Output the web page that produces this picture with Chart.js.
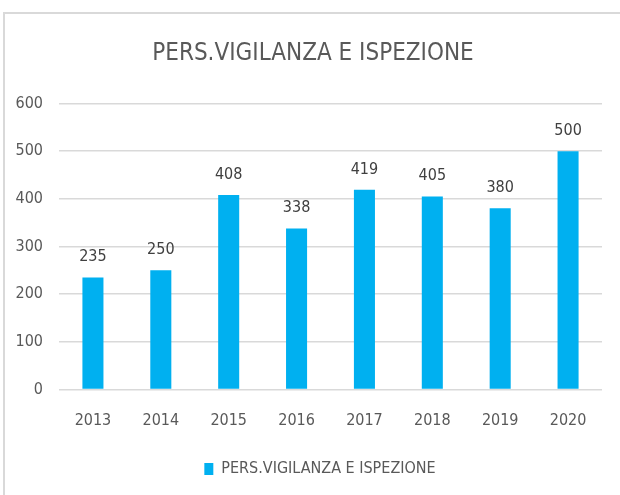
<!DOCTYPE html>
<html>
<head>
<meta charset="utf-8">
<script src="https://cdn.jsdelivr.net/npm/chart.js@4/dist/chart.umd.min.js"></script>
<style>
  html, body { margin: 0; padding: 0; background: #fff; overflow: hidden; }
  canvas { display: block; }
</style>
</head>
<body>
<canvas id="barChart" width="620" height="495"></canvas>
<script>
const years = ['2013', '2014', '2015', '2016', '2017', '2018', '2019', '2020'];
const staffValues = [235, 250, 408, 338, 419, 405, 380, 500];
const yTicks = [0, 100, 200, 300, 400, 500, 600];
const seriesName = 'PERS.VIGILANZA E ISPEZIONE';

const FONT = "'Liberation Sans Narrow', 'DejaVu Sans Condensed', sans-serif";

// light grey frame (top + left edges only, the rest is cropped in the original)
const frame = {
  id: 'frame',
  beforeDraw(chart) {
    const c = chart.ctx;
    c.save();
    c.fillStyle = '#d9d9d9';
    c.fillRect(3, 12, chart.width - 3, 2);
    c.fillRect(3, 12, 2, chart.height - 12);
    c.restore();
  }
};

// values above the bars
const barLabels = {
  id: 'barLabels',
  afterDatasetsDraw(chart) {
    const c = chart.ctx;
    const meta = chart.getDatasetMeta(0);
    c.save();
    c.font = '16px ' + FONT;
    c.fillStyle = '#404040';
    c.textAlign = 'center';
    c.textBaseline = 'alphabetic';
    meta.data.forEach((bar, i) => {
      c.fillText(String(staffValues[i]), bar.x, bar.y - 16);
    });
    c.restore();
  }
};

// title and legend are a bit off the canvas centre in the original
const shiftBoxes = {
  id: 'shiftBoxes',
  afterLayout(chart) {
    chart.titleBlock.left += 12;
    chart.titleBlock.right += 12;
    chart.legend.left += 19;
    chart.legend.right += 19;
  }
};

let chart;
const ctx = document.getElementById('barChart');
chart = new Chart(ctx, {
  type: 'bar',
  data: {
    labels: years,
    datasets: [{
      label: seriesName,
      data: staffValues,
      backgroundColor: '#00b0f0',
      borderWidth: 0,
      barPercentage: 0.31,
      categoryPercentage: 1
    }]
  },
  options: {
    responsive: false,
    animation: false,
    devicePixelRatio: 1,
    layout: {
      padding: { top: 0, left: 0, right: 18, bottom: 8 }
    },
    scales: {
      x: {
        grid: { display: false },
        border: { display: false },
        ticks: {
          color: '#595959',
          font: { family: FONT, size: 16 },
          padding: 14,
          maxRotation: 0
        },
        afterFit(scale) { scale.height = 61.5; }
      },
      y: {
        min: 0,
        max: 600,
        afterBuildTicks(scale) {
          scale.ticks = yTicks.map(v => ({ value: v }));
        },
        grid: {
          color: '#d9d9d9',
          lineWidth: 1.5,
          drawTicks: false
        },
        border: { display: false },
        ticks: {
          color: '#595959',
          font: { family: FONT, size: 16 },
          padding: 16
        },
        afterFit(scale) { scale.width = 59; }
      }
    },
    plugins: {
      title: {
        display: true,
        text: seriesName,
        color: '#595959',
        font: { family: FONT, size: 24, weight: 'normal' },
        padding: { top: 39, bottom: 35.7 }
      },
      legend: {
        display: true,
        position: 'bottom',
        labels: {
          color: '#595959',
          font: { family: FONT, size: 16 },
          boxWidth: 9,
          boxHeight: 12,
          padding: 10
        }
      },
      tooltip: { enabled: false }
    }
  },
  plugins: [frame, barLabels, shiftBoxes]
});
</script>
</body>
</html>
